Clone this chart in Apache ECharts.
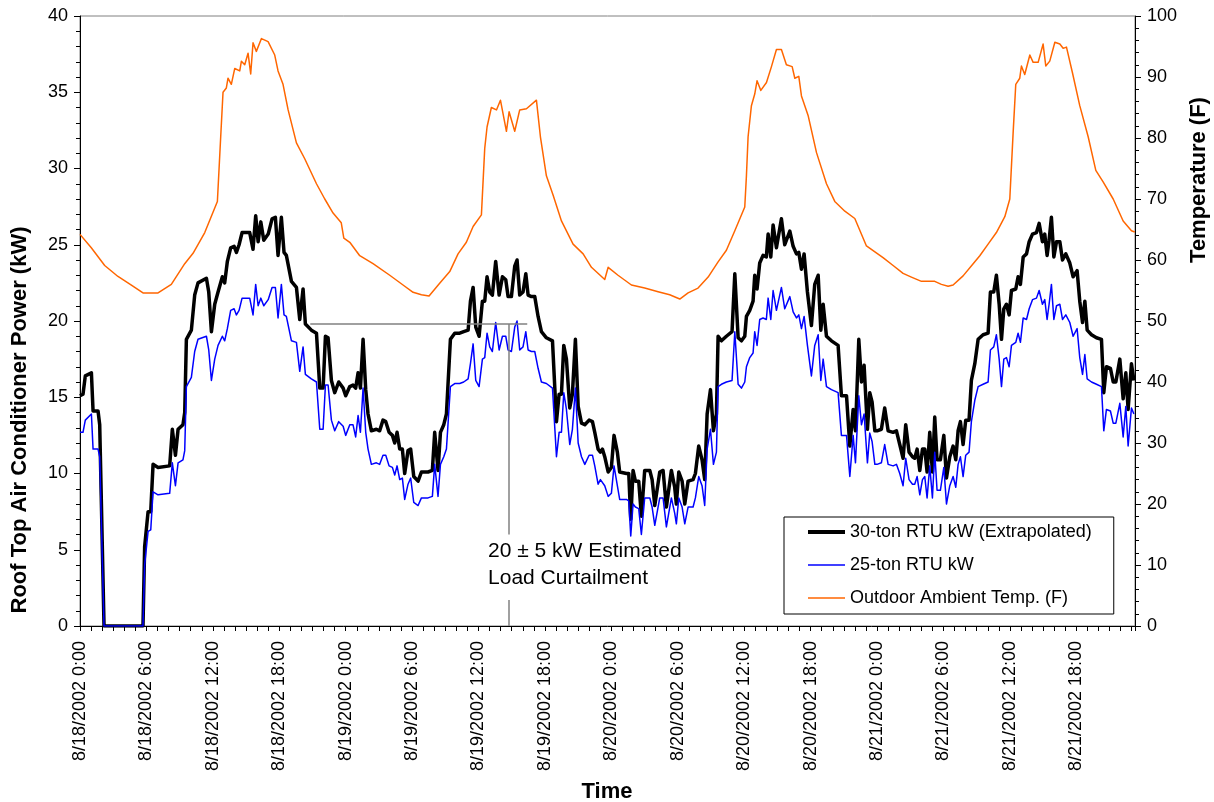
<!DOCTYPE html>
<html>
<head>
<meta charset="utf-8">
<script src="https://cdn.jsdelivr.net/npm/echarts@6/dist/echarts.min.js"></script>
<style>
  html, body { margin: 0; padding: 0; background: #fff; }
  #chart { width: 1214px; height: 802px; }
</style>
</head>
<body>
<div id="chart"></div>
<script>
// x axis is hours since 8/18/2002 0:00
const tickLabels = [
  '8/18/2002 0:00', '8/18/2002 6:00', '8/18/2002 12:00', '8/18/2002 18:00',
  '8/19/2002 0:00', '8/19/2002 6:00', '8/19/2002 12:00', '8/19/2002 18:00',
  '8/20/2002 0:00', '8/20/2002 6:00', '8/20/2002 12:00', '8/20/2002 18:00',
  '8/21/2002 0:00', '8/21/2002 6:00', '8/21/2002 12:00', '8/21/2002 18:00'
]

const powerHours = [
  0.0, 0.27, 0.48, 1.03, 1.18, 1.63, 1.78, 2.17, 5.69, 5.84,
  6.15, 6.39, 6.6, 7.05, 8.1, 8.34, 8.62, 8.86, 9.3, 9.46,
  9.61, 10.06, 10.36, 10.66, 11.42, 11.63, 11.87, 12.17, 12.47, 12.86,
  13.07, 13.31, 13.61, 13.92, 14.13, 14.37, 14.64, 15.33, 15.63, 15.87,
  16.09, 16.33, 16.6, 17.0, 17.35, 17.65, 17.89, 18.19, 18.43, 18.64,
  19.1, 19.55, 19.85, 20.15, 20.36, 20.9, 21.36, 21.66, 21.96, 22.17,
  22.41, 22.71, 23.01, 23.37, 23.77, 24.0, 24.37,
  24.66, 24.9, 25.12, 25.33, 25.57, 25.81, 26.02, 26.32, 26.77, 27.07,
  27.37, 27.62, 27.92, 28.22, 28.43, 28.64, 28.88, 29.12, 29.33, 29.63,
  29.87, 30.15, 30.54, 30.84, 31.44, 31.83, 32.04, 32.34, 32.56, 32.86,
  33.1, 33.46, 33.85, 34.3, 34.66, 35.06, 35.27, 35.51, 35.75, 36.05,
  36.35, 36.56, 36.77, 37.01, 37.25, 37.55, 37.86, 38.16, 38.46, 38.67,
  38.97, 39.27, 39.48, 39.72, 40.02, 40.27, 40.48, 40.78, 41.08, 41.38,
  41.68, 42.13, 42.68, 43.04, 43.28, 43.49, 43.7, 43.94, 44.24, 44.48,
  44.75, 45.0, 45.3, 45.6, 45.99, 46.29, 46.5, 46.8, 47.01, 47.19,
  47.4, 47.71, 48.0,
  48.24, 48.54, 48.75, 49.36, 49.57, 49.75, 49.96, 50.17, 50.47, 50.71,
  51.01, 51.47, 51.68, 51.92, 52.37, 52.67, 52.97, 53.42, 53.72, 53.87,
  54.09, 54.39, 54.63, 54.93, 55.38, 55.59, 55.89, 56.19, 56.43, 56.65,
  56.95, 57.22, 57.49, 57.64, 57.94, 58.39, 58.9, 59.15, 59.45, 59.75,
  60.05, 60.2, 60.5, 60.8, 60.95, 61.16, 61.4, 61.7, 62.0, 62.16,
  62.4, 62.61, 62.91, 63.36, 63.66, 64.12, 64.42, 64.72, 64.93, 65.17,
  65.41, 65.71, 66.07, 66.37, 66.68, 66.92, 67.13, 67.43, 67.88, 68.48,
  68.78, 69.24, 69.54, 69.84, 70.05, 70.35, 70.59, 70.83, 71.13, 71.34,
  71.55, 71.8,
  72.0, 72.39, 72.69, 73.0, 73.45, 73.75, 74.05, 74.35, 74.59, 74.89,
  75.2, 75.4, 75.62, 75.86, 76.1, 76.31, 76.52, 76.76, 77.0, 77.21,
  77.42, 77.72, 78.03, 78.27, 78.57, 78.87, 79.11, 79.32, 79.53, 79.77,
  80.01, 80.31, 80.52, 80.83, 81.13, 81.58, 82.03, 82.24, 82.54, 82.78,
  83.03, 83.24, 83.45, 83.69, 83.93, 84.14, 84.53, 84.74, 84.95, 85.2,
  85.5, 85.74, 86.04, 86.4, 86.64, 86.94, 87.15, 87.36, 87.54, 87.75,
  87.97, 88.21, 88.51, 88.75, 89.05, 89.41, 89.71, 90.07, 90.31, 90.56,
  90.77, 90.98, 91.37, 91.82, 92.27, 92.48, 92.72, 93.08, 93.33, 93.57,
  93.93, 94.23, 94.47, 94.68, 94.98, 95.2
]

const rtu30Kw = [
  15.1, 15.2, 16.4, 16.6, 14.1, 14.1, 13.2, 0, 0, 5.2,
  7.5, 7.5, 10.6, 10.4, 10.5, 12.9, 11.2, 12.9, 13.2, 14.0,
  18.8, 19.4, 21.7, 22.5, 22.8, 21.9, 19.3, 21.1, 21.9, 22.9,
  22.5, 23.9, 24.8, 24.9, 24.5, 25.0, 25.8, 25.8, 24.7, 26.9,
  25.2, 26.5, 25.3, 25.7, 26.7, 26.8, 24.3, 26.8, 24.5, 24.3,
  22.6, 22.2, 20.1, 22.1, 19.8, 19.4, 19.2, 15.6, 15.6, 19.0,
  18.9, 16.1, 15.3, 16.0, 15.6, 15.1, 15.7,
  15.8, 15.6, 16.6, 15.6, 18.8, 15.5, 13.9, 12.8, 12.9, 12.8,
  13.5, 13.4, 12.7, 12.5, 12.0, 12.7, 11.6, 11.6, 10.0, 11.5,
  11.6, 9.8, 9.5, 10.1, 10.1, 10.2, 12.7, 10.2, 12.7, 13.2,
  13.9, 18.8, 19.2, 19.2, 19.3, 19.4, 21.3, 22.2, 19.6, 19.0,
  21.3, 21.3, 22.9, 21.9, 21.7, 23.9, 21.7, 22.9, 22.7, 21.6,
  21.6, 23.6, 24.0, 21.7, 21.9, 23.1, 21.7, 21.6, 21.6, 20.3,
  19.3, 18.9, 18.7, 13.4, 15.2, 15.2, 18.4, 17.5, 14.3, 15.2,
  18.8, 14.4, 13.3, 13.2, 13.5, 13.4, 12.7, 11.6, 11.4, 11.6,
  11.1, 10.1, 10.4,
  12.5, 11.4, 10.1, 10.0, 10.0, 7.0, 10.2, 9.5, 9.5, 7.2,
  10.2, 10.2, 9.6, 7.9, 10.1, 10.2, 7.8, 10.2, 9.1, 8.0,
  10.1, 9.5, 8.0, 9.5, 9.6, 10.0, 11.8, 10.9, 9.6, 13.9,
  15.5, 12.8, 13.9, 19.0, 18.7, 19.0, 19.3, 23.1, 18.9, 18.7,
  19.0, 20.3, 20.7, 21.3, 23.0, 22.1, 23.8, 24.3, 24.2, 25.7,
  24.2, 26.3, 24.8, 26.7, 25.0, 25.9, 24.9, 24.4, 24.5, 23.4,
  24.4, 21.9, 19.7, 22.4, 23.0, 19.4, 21.1, 19.0, 18.7, 18.4,
  15.1, 15.1, 11.8, 14.2, 12.8, 18.8, 16.0, 17.1, 12.9, 15.3,
  14.7, 12.8,
  12.8, 12.9, 14.3, 12.8, 12.7, 12.8, 11.9, 11.0, 13.2, 11.4,
  11.1, 11.0, 11.6, 10.2, 11.6, 11.6, 10.1, 12.7, 10.1, 13.7,
  10.9, 10.9, 12.5, 9.7, 11.1, 11.8, 10.9, 12.8, 13.4, 11.9,
  13.5, 13.5, 16.1, 17.2, 18.8, 19.1, 19.2, 21.9, 21.9, 23.0,
  21.1, 18.8, 20.8, 21.1, 20.4, 22.0, 22.1, 22.9, 22.4, 24.2,
  24.4, 25.2, 25.7, 25.8, 26.4, 25.2, 25.7, 24.3, 25.3, 26.8,
  24.2, 25.2, 25.2, 24.0, 24.4, 23.8, 22.9, 23.3, 21.3, 19.9,
  21.3, 19.4, 19.1, 18.9, 18.8, 15.3, 17.0, 16.9, 16.0, 16.0,
  17.5, 14.9, 16.6, 14.2, 17.2, 16.1
]

const rtu25Kw = [
  12.7, 12.7, 13.5, 13.9, 11.6, 11.6, 11.1, 0, 0, 4.0,
  6.2, 6.3, 8.8, 8.6, 8.7, 10.7, 9.2, 10.7, 10.9, 11.5,
  15.7, 16.3, 18.0, 18.8, 19.0, 18.1, 16.1, 17.5, 18.4, 19.0,
  18.7, 19.5, 20.7, 20.8, 20.4, 20.7, 21.5, 21.5, 20.4, 22.4,
  21.0, 21.5, 21.0, 21.4, 22.2, 22.2, 20.2, 22.4, 20.4, 20.3,
  18.7, 18.6, 16.7, 18.3, 16.5, 16.2, 16.0, 12.9, 12.9, 15.8,
  15.8, 13.5, 12.8, 13.4, 13.1, 12.5, 13.2,
  13.2, 12.4, 13.8, 12.7, 15.6, 12.7, 11.6, 10.6, 10.7, 10.6,
  11.2, 11.2, 10.5, 10.4, 9.9, 10.5, 9.6, 9.7, 8.3, 9.3,
  9.7, 8.1, 7.9, 8.4, 8.4, 8.5, 10.6, 8.5, 10.6, 11.1,
  11.6, 15.7, 15.9, 15.9, 16.0, 16.2, 17.2, 18.5, 16.1, 15.7,
  17.5, 17.6, 19.2, 18.3, 18.0, 19.9, 18.1, 19.0, 19.0, 18.1,
  18.0, 19.6, 20.0, 18.1, 18.3, 19.3, 18.1, 18.0, 18.0, 16.9,
  16.0, 15.9, 15.6, 11.1, 12.7, 12.7, 15.3, 14.2, 11.9, 12.9,
  15.6, 12.0, 11.1, 10.6, 11.2, 11.2, 10.5, 9.3, 9.6, 9.7,
  9.2, 8.5, 8.7,
  10.5, 9.2, 8.3, 8.3, 8.2, 5.9, 8.0, 7.8, 7.7, 6.0,
  8.4, 8.4, 7.8, 6.6, 8.4, 8.4, 6.5, 8.4, 7.4, 6.7,
  8.4, 7.8, 6.7, 7.8, 7.8, 8.4, 9.8, 9.2, 7.9, 11.6,
  12.9, 10.6, 11.4, 15.7, 15.85, 16.0, 16.1, 19.3, 15.85, 15.6,
  16.0, 17.0, 17.6, 17.9, 19.3, 18.4, 20.1, 20.2, 20.1, 21.5,
  20.1, 22.0, 20.7, 22.2, 20.8, 21.6, 20.6, 20.2, 20.4, 19.5,
  20.3, 18.4, 16.4, 18.4, 19.1, 16.1, 17.5, 15.7, 15.5, 15.3,
  12.5, 12.5, 9.8, 12.5, 10.7, 15.1, 13.2, 13.9, 10.7, 12.65,
  12.1, 10.6,
  10.6, 10.7, 11.9, 10.6, 10.5, 10.6, 10.0, 9.2, 11.0, 9.6,
  9.3, 9.3, 9.8, 8.6, 9.6, 9.8, 8.4, 10.5, 8.4, 11.4,
  8.9, 8.9, 10.4, 8.0, 9.2, 9.8, 9.1, 10.6, 11.1, 9.8,
  11.2, 11.4, 13.4, 14.8, 15.7, 15.85, 16.0, 18.1, 18.3, 19.1,
  17.5, 15.7, 17.5, 17.6, 17.0, 18.4, 18.6, 19.2, 18.6, 20.2,
  20.1, 20.8, 21.4, 21.5, 22.0, 21.1, 21.4, 20.1, 21.1, 22.4,
  20.1, 21.0, 21.1, 20.1, 20.4, 19.9, 19.0, 19.5, 17.6, 16.5,
  17.8, 16.2, 16.0, 15.85, 15.7, 12.8, 14.2, 14.1, 13.3, 13.3,
  14.6, 12.4, 14.4, 11.8, 14.3, 13.9
]

const tempHours = [
  0.0, 1.02, 2.23, 3.43, 4.64, 5.69, 7.05, 8.25, 9.46, 10.21,
  11.27, 12.41, 12.71, 12.92, 13.22, 13.37, 13.67, 13.98, 14.43, 14.58,
  14.88, 15.18, 15.42, 15.63, 15.93, 16.39, 16.99, 17.59, 17.89, 18.34,
  18.8, 19.55, 20.3, 21.36, 22.11, 22.86, 23.6, 23.83, 24.37,
  25.27, 26.47, 27.98, 29.18, 30.09, 30.84, 31.53, 32.49, 33.4, 34.15,
  34.9, 35.51, 36.26, 36.56, 36.77, 37.16, 37.62, 37.98, 38.52, 38.76,
  39.27, 39.72, 40.33, 41.23, 41.59, 42.13, 42.74, 43.49, 44.54, 45.45,
  46.2, 47.4, 47.71,
  48.6, 49.81, 51.01, 52.22, 53.27, 54.18, 54.93, 55.83, 56.74, 57.64,
  58.39, 59.15, 60.05, 60.2, 60.35, 60.65, 60.95, 61.16, 61.5, 62.01,
  62.46, 62.91, 63.36, 63.81, 64.33, 64.57, 64.93, 65.17, 65.77, 66.53,
  67.43, 68.18, 69.09, 69.99, 71.04,
  72.54, 73.45, 74.35, 75.1, 76.01, 77.21, 77.81, 78.42, 78.87, 79.77,
  80.68, 81.28, 82.03, 82.78, 83.54, 83.99, 84.29, 84.53, 84.89, 85.04,
  85.34, 85.8, 86.1, 86.55, 87.0, 87.24, 87.6, 88.06, 88.51, 88.81,
  89.11, 89.65, 90.31, 91.07, 91.76, 92.42, 93.33, 94.23, 94.98, 95.28
]

const ambientTemp = [
  64.2, 62.0, 59.1, 57.3, 55.9, 54.6, 54.6, 56.0, 59.4, 61.1,
  64.5, 69.6, 80.2, 87.5, 88.2, 89.8, 88.8, 91.4, 91.0, 92.6,
  92.0, 93.9, 90.5, 95.6, 94.2, 96.3, 95.8, 93.6, 91.0, 88.8,
  84.6, 79.2, 76.6, 72.5, 70.0, 67.7, 66.1, 63.6, 62.9,
  60.7, 59.4, 57.5, 55.9, 54.7, 54.3, 54.1, 56.2, 58.1, 61.0,
  62.9, 65.5, 67.4, 78.3, 81.8, 85.0, 84.6, 86.2, 81.1, 84.3,
  81.1, 84.6, 84.8, 86.2, 80.2, 73.8, 70.6, 66.4, 62.6, 61.0,
  58.8, 56.8, 58.8,
  57.5, 55.9, 55.4, 54.8, 54.3, 53.6, 54.6, 55.4, 57.2, 59.7,
  61.6, 64.8, 68.7, 73.8, 80.2, 85.3, 87.2, 89.4, 87.8, 89.1,
  91.7, 94.5, 94.5, 92.0, 91.7, 89.8, 90.1, 86.9, 83.7, 77.6,
  72.5, 69.6, 68.0, 66.8, 62.3,
  60.4, 59.1, 57.8, 57.2, 56.5, 56.5, 56.0, 55.7, 55.9, 57.4,
  59.4, 60.7, 62.6, 64.5, 67.1, 70.0, 80.8, 88.8, 89.8, 91.8,
  90.4, 93.6, 92.4, 92.4, 95.4, 91.8, 92.6, 95.7, 95.4, 94.7,
  94.9, 90.7, 85.3, 80.2, 74.7, 72.8, 70.0, 66.4, 64.8, 64.6
]

// curtailment annotation (hours, kW)
const curtailLevel = 19.8
const curtailFrom = 20.8
const curtailTo = 40.4
const curtailAt = 38.75
const noteGapTop = 6.0
const noteGapBottom = 1.7
const noteAnchor = [36.86, 4.0]
const noteText = '20 \u00b1 5 kW Estimated\nLoad Curtailment'

const FONT = '"Liberation Sans", Arial, sans-serif'

const chart = echarts.init(document.getElementById('chart'))

function pairs(xs, ys) {
  return xs.map((x, i) => [x, ys[i]])
}

const option = {
  animation: false,
  textStyle: { fontFamily: FONT, color: '#000' },
  grid: {
    left: 80,
    right: 79,
    top: 16,
    bottom: 176,
    show: true,
    borderColor: '#808080',
    borderWidth: 1
  },
  legend: {
    orient: 'vertical',
    left: 784,
    top: 517,
    padding: [5, 22, 6, 22],
    itemWidth: 37,
    itemHeight: 14,
    itemGap: 13,
    borderColor: '#000',
    borderWidth: 1,
    backgroundColor: '#fff',
    // hide the marker dot, keep only the line sample
    itemStyle: { opacity: 0 },
    textStyle: { fontSize: 18, lineHeight: 20, color: '#000', fontFamily: FONT },
    data: [
      { name: '30-ton RTU kW (Extrapolated)', lineStyle: { width: 4 } },
      { name: '25-ton RTU kW', lineStyle: { width: 1.5 } },
      { name: 'Outdoor Ambient Temp. (F)', lineStyle: { width: 1.5 } }
    ]
  },
  xAxis: {
    type: 'value',
    min: 0,
    max: 95.3,
    interval: 1,
    axisLine: { lineStyle: { color: '#000', width: 1 } },
    axisTick: { length: 5, lineStyle: { color: '#000' } },
    axisLabel: {
      rotate: 90,
      margin: 15,
      fontSize: 18,
      color: '#000',
      fontFamily: FONT,
      formatter: v => (v % 6 === 0 ? (tickLabels[v / 6] || '') : '')
    },
    splitLine: { show: false }
  },
  yAxis: [
    {
      type: 'value',
      min: 0,
      max: 40,
      interval: 5,
      position: 'left',
      axisLine: { show: true, lineStyle: { color: '#000', width: 1 } },
      axisTick: { show: true, length: 6, lineStyle: { color: '#000' } },
      minorTick: { show: true, splitNumber: 5, length: 4, lineStyle: { color: '#000' } },
      axisLabel: { fontSize: 18, margin: 12, color: '#000', fontFamily: FONT },
      splitLine: { show: false }
    },
    {
      type: 'value',
      min: 0,
      max: 100,
      interval: 10,
      position: 'right',
      axisLine: { show: true, lineStyle: { color: '#000', width: 1 } },
      axisTick: { show: true, length: 6, lineStyle: { color: '#000' } },
      minorTick: { show: true, splitNumber: 5, length: 4, lineStyle: { color: '#000' } },
      axisLabel: { fontSize: 18, margin: 12, color: '#000', fontFamily: FONT },
      splitLine: { show: false }
    }
  ],
  series: [
    {
      name: '30-ton RTU kW (Extrapolated)',
      type: 'line',
      data: pairs(powerHours, rtu30Kw),
      symbol: 'none',
      lineStyle: { color: '#000', width: 3.5, join: 'round' },
      itemStyle: { color: '#000' },
      z: 2,
      markLine: {
        silent: true,
        symbol: 'none',
        label: { show: false },
        lineStyle: { color: '#808080', width: 1.5, type: 'solid' },
        data: [
          [{ coord: [curtailFrom, curtailLevel] }, { coord: [curtailTo, curtailLevel] }],
          [{ coord: [curtailAt, curtailLevel] }, { coord: [curtailAt, noteGapTop] }],
          [{ coord: [curtailAt, noteGapBottom] }, { coord: [curtailAt, 0] }]
        ]
      }
    },
    {
      name: '25-ton RTU kW',
      type: 'line',
      data: pairs(powerHours, rtu25Kw),
      symbol: 'none',
      lineStyle: { color: '#0000ff', width: 1.5, join: 'round' },
      itemStyle: { color: '#0000ff' },
      z: 3
    },
    {
      name: 'Outdoor Ambient Temp. (F)',
      type: 'line',
      yAxisIndex: 1,
      data: pairs(tempHours, ambientTemp),
      symbol: 'none',
      lineStyle: { color: '#ff6600', width: 1.5, join: 'round' },
      itemStyle: { color: '#ff6600' },
      z: 4
    }
  ]
}

chart.setOption(option)

const notePos = chart.convertToPixel({ xAxisIndex: 0, yAxisIndex: 0 }, noteAnchor)
const titleStyle = { fontFamily: FONT, fontSize: 22, fontWeight: 'bold', fill: '#000', align: 'center', verticalAlign: 'middle' }

chart.setOption({
  graphic: [
    {
      type: 'text', x: 20, y: 420, rotation: Math.PI / 2,
      style: Object.assign({ text: 'Roof Top Air Conditioner Power (kW)' }, titleStyle)
    },
    {
      type: 'text', x: 1199, y: 180, rotation: Math.PI / 2,
      style: Object.assign({ text: 'Temperature (F)' }, titleStyle)
    },
    {
      type: 'text', x: 607, y: 792,
      style: Object.assign({ text: 'Time' }, titleStyle)
    },
    {
      type: 'text', x: notePos[0], y: notePos[1],
      style: {
        text: noteText, fontFamily: FONT, fontSize: 21, lineHeight: 27,
        fill: '#000', align: 'left', verticalAlign: 'middle'
      }
    }
  ]
})
</script>
</body>
</html>
